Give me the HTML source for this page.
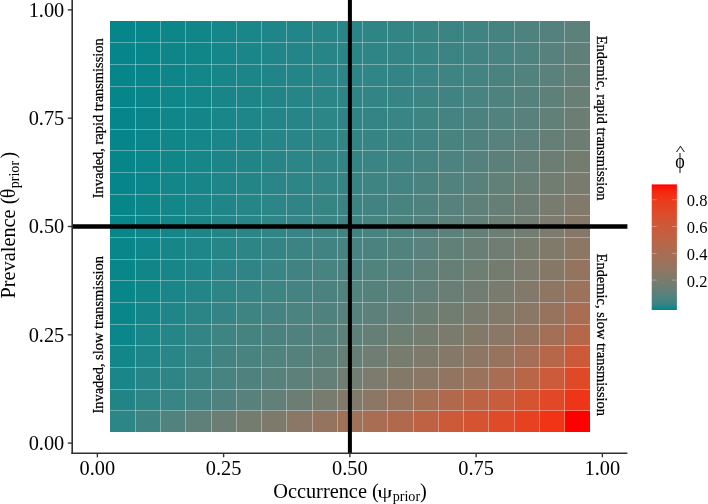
<!DOCTYPE html>
<html><head><meta charset="utf-8"><title>plot</title>
<style>
html,body{margin:0;padding:0;background:#fff;overflow:hidden;}
svg{display:block;}
text{font-family:"Liberation Serif","DejaVu Serif",serif;fill:#000;}
.tk{font-size:20.35px;}
.ti text{font-size:20.35px;}
.lb{font-size:14.45px;stroke:#000;stroke-width:0.25px;}
.lg{font-size:16.5px;}
</style></head><body>
<svg width="708" height="504" viewBox="0 0 708 504">
<rect x="0" y="0" width="708" height="504" fill="#ffffff"/>
<g shape-rendering="crispEdges">
<rect x="110.00" y="410.61" width="25.55" height="21.66" fill="#2c8586"/>
<rect x="110.00" y="388.95" width="25.55" height="21.96" fill="#218588"/>
<rect x="110.00" y="367.29" width="25.55" height="21.96" fill="#1a8689"/>
<rect x="110.00" y="345.63" width="25.55" height="21.96" fill="#128689"/>
<rect x="110.00" y="323.97" width="25.55" height="21.96" fill="#0b868a"/>
<rect x="110.00" y="302.31" width="25.55" height="21.96" fill="#09868a"/>
<rect x="110.00" y="280.65" width="25.55" height="21.96" fill="#08868a"/>
<rect x="110.00" y="258.99" width="25.55" height="21.96" fill="#08868a"/>
<rect x="110.00" y="237.33" width="25.55" height="21.96" fill="#08868a"/>
<rect x="110.00" y="215.67" width="25.55" height="21.96" fill="#08868a"/>
<rect x="110.00" y="194.01" width="25.55" height="21.96" fill="#07868a"/>
<rect x="110.00" y="172.35" width="25.55" height="21.96" fill="#06868a"/>
<rect x="110.00" y="150.69" width="25.55" height="21.96" fill="#06868a"/>
<rect x="110.00" y="129.03" width="25.55" height="21.96" fill="#06868a"/>
<rect x="110.00" y="107.37" width="25.55" height="21.96" fill="#06868a"/>
<rect x="110.00" y="85.71" width="25.55" height="21.96" fill="#06868a"/>
<rect x="110.00" y="64.05" width="25.55" height="21.96" fill="#06868a"/>
<rect x="110.00" y="42.39" width="25.55" height="21.96" fill="#06868a"/>
<rect x="110.00" y="20.73" width="25.55" height="21.96" fill="#06868a"/>
<rect x="135.25" y="410.61" width="25.55" height="21.66" fill="#3f8483"/>
<rect x="135.25" y="388.95" width="25.55" height="21.96" fill="#2e8586"/>
<rect x="135.25" y="367.29" width="25.55" height="21.96" fill="#258587"/>
<rect x="135.25" y="345.63" width="25.55" height="21.96" fill="#1e8588"/>
<rect x="135.25" y="323.97" width="25.55" height="21.96" fill="#198689"/>
<rect x="135.25" y="302.31" width="25.55" height="21.96" fill="#148689"/>
<rect x="135.25" y="280.65" width="25.55" height="21.96" fill="#118689"/>
<rect x="135.25" y="258.99" width="25.55" height="21.96" fill="#108689"/>
<rect x="135.25" y="237.33" width="25.55" height="21.96" fill="#0f8689"/>
<rect x="135.25" y="215.67" width="25.55" height="21.96" fill="#0e8689"/>
<rect x="135.25" y="194.01" width="25.55" height="21.96" fill="#0d868a"/>
<rect x="135.25" y="172.35" width="25.55" height="21.96" fill="#0c868a"/>
<rect x="135.25" y="150.69" width="25.55" height="21.96" fill="#0b868a"/>
<rect x="135.25" y="129.03" width="25.55" height="21.96" fill="#0b868a"/>
<rect x="135.25" y="107.37" width="25.55" height="21.96" fill="#0a868a"/>
<rect x="135.25" y="85.71" width="25.55" height="21.96" fill="#0a868a"/>
<rect x="135.25" y="64.05" width="25.55" height="21.96" fill="#0a868a"/>
<rect x="135.25" y="42.39" width="25.55" height="21.96" fill="#09868a"/>
<rect x="135.25" y="20.73" width="25.55" height="21.96" fill="#09868a"/>
<rect x="160.50" y="410.61" width="25.55" height="21.66" fill="#51827e"/>
<rect x="160.50" y="388.95" width="25.55" height="21.96" fill="#398484"/>
<rect x="160.50" y="367.29" width="25.55" height="21.96" fill="#2f8586"/>
<rect x="160.50" y="345.63" width="25.55" height="21.96" fill="#2a8587"/>
<rect x="160.50" y="323.97" width="25.55" height="21.96" fill="#258587"/>
<rect x="160.50" y="302.31" width="25.55" height="21.96" fill="#1f8588"/>
<rect x="160.50" y="280.65" width="25.55" height="21.96" fill="#1a8689"/>
<rect x="160.50" y="258.99" width="25.55" height="21.96" fill="#188689"/>
<rect x="160.50" y="237.33" width="25.55" height="21.96" fill="#168689"/>
<rect x="160.50" y="215.67" width="25.55" height="21.96" fill="#148689"/>
<rect x="160.50" y="194.01" width="25.55" height="21.96" fill="#138689"/>
<rect x="160.50" y="172.35" width="25.55" height="21.96" fill="#128689"/>
<rect x="160.50" y="150.69" width="25.55" height="21.96" fill="#118689"/>
<rect x="160.50" y="129.03" width="25.55" height="21.96" fill="#108689"/>
<rect x="160.50" y="107.37" width="25.55" height="21.96" fill="#0f8689"/>
<rect x="160.50" y="85.71" width="25.55" height="21.96" fill="#0f8689"/>
<rect x="160.50" y="64.05" width="25.55" height="21.96" fill="#0e8689"/>
<rect x="160.50" y="42.39" width="25.55" height="21.96" fill="#0e8689"/>
<rect x="160.50" y="20.73" width="25.55" height="21.96" fill="#0d868a"/>
<rect x="185.75" y="410.61" width="25.55" height="21.66" fill="#5f8079"/>
<rect x="185.75" y="388.95" width="25.55" height="21.96" fill="#448381"/>
<rect x="185.75" y="367.29" width="25.55" height="21.96" fill="#3b8483"/>
<rect x="185.75" y="345.63" width="25.55" height="21.96" fill="#378484"/>
<rect x="185.75" y="323.97" width="25.55" height="21.96" fill="#328485"/>
<rect x="185.75" y="302.31" width="25.55" height="21.96" fill="#2b8586"/>
<rect x="185.75" y="280.65" width="25.55" height="21.96" fill="#248587"/>
<rect x="185.75" y="258.99" width="25.55" height="21.96" fill="#208588"/>
<rect x="185.75" y="237.33" width="25.55" height="21.96" fill="#1e8588"/>
<rect x="185.75" y="215.67" width="25.55" height="21.96" fill="#1c8588"/>
<rect x="185.75" y="194.01" width="25.55" height="21.96" fill="#1a8689"/>
<rect x="185.75" y="172.35" width="25.55" height="21.96" fill="#188689"/>
<rect x="185.75" y="150.69" width="25.55" height="21.96" fill="#168689"/>
<rect x="185.75" y="129.03" width="25.55" height="21.96" fill="#158689"/>
<rect x="185.75" y="107.37" width="25.55" height="21.96" fill="#148689"/>
<rect x="185.75" y="85.71" width="25.55" height="21.96" fill="#138689"/>
<rect x="185.75" y="64.05" width="25.55" height="21.96" fill="#128689"/>
<rect x="185.75" y="42.39" width="25.55" height="21.96" fill="#118689"/>
<rect x="185.75" y="20.73" width="25.55" height="21.96" fill="#118689"/>
<rect x="211.00" y="410.61" width="25.55" height="21.66" fill="#6c7e74"/>
<rect x="211.00" y="388.95" width="25.55" height="21.96" fill="#4f827e"/>
<rect x="211.00" y="367.29" width="25.55" height="21.96" fill="#468381"/>
<rect x="211.00" y="345.63" width="25.55" height="21.96" fill="#428382"/>
<rect x="211.00" y="323.97" width="25.55" height="21.96" fill="#3e8483"/>
<rect x="211.00" y="302.31" width="25.55" height="21.96" fill="#358485"/>
<rect x="211.00" y="280.65" width="25.55" height="21.96" fill="#2d8586"/>
<rect x="211.00" y="258.99" width="25.55" height="21.96" fill="#298587"/>
<rect x="211.00" y="237.33" width="25.55" height="21.96" fill="#268587"/>
<rect x="211.00" y="215.67" width="25.55" height="21.96" fill="#238588"/>
<rect x="211.00" y="194.01" width="25.55" height="21.96" fill="#208588"/>
<rect x="211.00" y="172.35" width="25.55" height="21.96" fill="#1e8588"/>
<rect x="211.00" y="150.69" width="25.55" height="21.96" fill="#1c8588"/>
<rect x="211.00" y="129.03" width="25.55" height="21.96" fill="#1a8689"/>
<rect x="211.00" y="107.37" width="25.55" height="21.96" fill="#198689"/>
<rect x="211.00" y="85.71" width="25.55" height="21.96" fill="#188689"/>
<rect x="211.00" y="64.05" width="25.55" height="21.96" fill="#168689"/>
<rect x="211.00" y="42.39" width="25.55" height="21.96" fill="#158689"/>
<rect x="211.00" y="20.73" width="25.55" height="21.96" fill="#158689"/>
<rect x="236.25" y="410.61" width="25.55" height="21.66" fill="#747c70"/>
<rect x="236.25" y="388.95" width="25.55" height="21.96" fill="#59817b"/>
<rect x="236.25" y="367.29" width="25.55" height="21.96" fill="#4f827e"/>
<rect x="236.25" y="345.63" width="25.55" height="21.96" fill="#498380"/>
<rect x="236.25" y="323.97" width="25.55" height="21.96" fill="#458381"/>
<rect x="236.25" y="302.31" width="25.55" height="21.96" fill="#3d8483"/>
<rect x="236.25" y="280.65" width="25.55" height="21.96" fill="#368485"/>
<rect x="236.25" y="258.99" width="25.55" height="21.96" fill="#318485"/>
<rect x="236.25" y="237.33" width="25.55" height="21.96" fill="#2d8586"/>
<rect x="236.25" y="215.67" width="25.55" height="21.96" fill="#298587"/>
<rect x="236.25" y="194.01" width="25.55" height="21.96" fill="#268587"/>
<rect x="236.25" y="172.35" width="25.55" height="21.96" fill="#248587"/>
<rect x="236.25" y="150.69" width="25.55" height="21.96" fill="#218588"/>
<rect x="236.25" y="129.03" width="25.55" height="21.96" fill="#208588"/>
<rect x="236.25" y="107.37" width="25.55" height="21.96" fill="#1e8588"/>
<rect x="236.25" y="85.71" width="25.55" height="21.96" fill="#1d8588"/>
<rect x="236.25" y="64.05" width="25.55" height="21.96" fill="#1b8588"/>
<rect x="236.25" y="42.39" width="25.55" height="21.96" fill="#1a8689"/>
<rect x="236.25" y="20.73" width="25.55" height="21.96" fill="#198689"/>
<rect x="261.50" y="410.61" width="25.55" height="21.66" fill="#7e7a6b"/>
<rect x="261.50" y="388.95" width="25.55" height="21.96" fill="#627f78"/>
<rect x="261.50" y="367.29" width="25.55" height="21.96" fill="#56817c"/>
<rect x="261.50" y="345.63" width="25.55" height="21.96" fill="#50827e"/>
<rect x="261.50" y="323.97" width="25.55" height="21.96" fill="#4b8280"/>
<rect x="261.50" y="302.31" width="25.55" height="21.96" fill="#448381"/>
<rect x="261.50" y="280.65" width="25.55" height="21.96" fill="#3e8483"/>
<rect x="261.50" y="258.99" width="25.55" height="21.96" fill="#398484"/>
<rect x="261.50" y="237.33" width="25.55" height="21.96" fill="#348485"/>
<rect x="261.50" y="215.67" width="25.55" height="21.96" fill="#308586"/>
<rect x="261.50" y="194.01" width="25.55" height="21.96" fill="#2c8586"/>
<rect x="261.50" y="172.35" width="25.55" height="21.96" fill="#298587"/>
<rect x="261.50" y="150.69" width="25.55" height="21.96" fill="#278587"/>
<rect x="261.50" y="129.03" width="25.55" height="21.96" fill="#258587"/>
<rect x="261.50" y="107.37" width="25.55" height="21.96" fill="#238588"/>
<rect x="261.50" y="85.71" width="25.55" height="21.96" fill="#218588"/>
<rect x="261.50" y="64.05" width="25.55" height="21.96" fill="#208588"/>
<rect x="261.50" y="42.39" width="25.55" height="21.96" fill="#1f8588"/>
<rect x="261.50" y="20.73" width="25.55" height="21.96" fill="#1e8588"/>
<rect x="286.75" y="410.61" width="25.55" height="21.66" fill="#8a7765"/>
<rect x="286.75" y="388.95" width="25.55" height="21.96" fill="#6c7e74"/>
<rect x="286.75" y="367.29" width="25.55" height="21.96" fill="#5d807a"/>
<rect x="286.75" y="345.63" width="25.55" height="21.96" fill="#55817c"/>
<rect x="286.75" y="323.97" width="25.55" height="21.96" fill="#4f827e"/>
<rect x="286.75" y="302.31" width="25.55" height="21.96" fill="#4a8380"/>
<rect x="286.75" y="280.65" width="25.55" height="21.96" fill="#448381"/>
<rect x="286.75" y="258.99" width="25.55" height="21.96" fill="#408382"/>
<rect x="286.75" y="237.33" width="25.55" height="21.96" fill="#3b8483"/>
<rect x="286.75" y="215.67" width="25.55" height="21.96" fill="#368485"/>
<rect x="286.75" y="194.01" width="25.55" height="21.96" fill="#318485"/>
<rect x="286.75" y="172.35" width="25.55" height="21.96" fill="#2e8586"/>
<rect x="286.75" y="150.69" width="25.55" height="21.96" fill="#2c8586"/>
<rect x="286.75" y="129.03" width="25.55" height="21.96" fill="#2a8587"/>
<rect x="286.75" y="107.37" width="25.55" height="21.96" fill="#288587"/>
<rect x="286.75" y="85.71" width="25.55" height="21.96" fill="#268587"/>
<rect x="286.75" y="64.05" width="25.55" height="21.96" fill="#248587"/>
<rect x="286.75" y="42.39" width="25.55" height="21.96" fill="#238588"/>
<rect x="286.75" y="20.73" width="25.55" height="21.96" fill="#228588"/>
<rect x="312.00" y="410.61" width="25.55" height="21.66" fill="#95745f"/>
<rect x="312.00" y="388.95" width="25.55" height="21.96" fill="#777c6f"/>
<rect x="312.00" y="367.29" width="25.55" height="21.96" fill="#647f77"/>
<rect x="312.00" y="345.63" width="25.55" height="21.96" fill="#5b807a"/>
<rect x="312.00" y="323.97" width="25.55" height="21.96" fill="#55817c"/>
<rect x="312.00" y="302.31" width="25.55" height="21.96" fill="#4f827e"/>
<rect x="312.00" y="280.65" width="25.55" height="21.96" fill="#4b8280"/>
<rect x="312.00" y="258.99" width="25.55" height="21.96" fill="#468381"/>
<rect x="312.00" y="237.33" width="25.55" height="21.96" fill="#418382"/>
<rect x="312.00" y="215.67" width="25.55" height="21.96" fill="#3c8483"/>
<rect x="312.00" y="194.01" width="25.55" height="21.96" fill="#378484"/>
<rect x="312.00" y="172.35" width="25.55" height="21.96" fill="#338485"/>
<rect x="312.00" y="150.69" width="25.55" height="21.96" fill="#318485"/>
<rect x="312.00" y="129.03" width="25.55" height="21.96" fill="#2e8586"/>
<rect x="312.00" y="107.37" width="25.55" height="21.96" fill="#2c8586"/>
<rect x="312.00" y="85.71" width="25.55" height="21.96" fill="#2a8586"/>
<rect x="312.00" y="64.05" width="25.55" height="21.96" fill="#298587"/>
<rect x="312.00" y="42.39" width="25.55" height="21.96" fill="#278587"/>
<rect x="312.00" y="20.73" width="25.55" height="21.96" fill="#268587"/>
<rect x="337.25" y="410.61" width="25.55" height="21.66" fill="#9f7159"/>
<rect x="337.25" y="388.95" width="25.55" height="21.96" fill="#817a6a"/>
<rect x="337.25" y="367.29" width="25.55" height="21.96" fill="#707d72"/>
<rect x="337.25" y="345.63" width="25.55" height="21.96" fill="#657f77"/>
<rect x="337.25" y="323.97" width="25.55" height="21.96" fill="#5d807a"/>
<rect x="337.25" y="302.31" width="25.55" height="21.96" fill="#56817c"/>
<rect x="337.25" y="280.65" width="25.55" height="21.96" fill="#50827e"/>
<rect x="337.25" y="258.99" width="25.55" height="21.96" fill="#4b8280"/>
<rect x="337.25" y="237.33" width="25.55" height="21.96" fill="#468381"/>
<rect x="337.25" y="215.67" width="25.55" height="21.96" fill="#408382"/>
<rect x="337.25" y="194.01" width="25.55" height="21.96" fill="#3c8483"/>
<rect x="337.25" y="172.35" width="25.55" height="21.96" fill="#388484"/>
<rect x="337.25" y="150.69" width="25.55" height="21.96" fill="#358485"/>
<rect x="337.25" y="129.03" width="25.55" height="21.96" fill="#338485"/>
<rect x="337.25" y="107.37" width="25.55" height="21.96" fill="#318485"/>
<rect x="337.25" y="85.71" width="25.55" height="21.96" fill="#2f8586"/>
<rect x="337.25" y="64.05" width="25.55" height="21.96" fill="#2d8586"/>
<rect x="337.25" y="42.39" width="25.55" height="21.96" fill="#2b8586"/>
<rect x="337.25" y="20.73" width="25.55" height="21.96" fill="#298587"/>
<rect x="362.50" y="410.61" width="25.55" height="21.66" fill="#a86d53"/>
<rect x="362.50" y="388.95" width="25.55" height="21.96" fill="#8c7764"/>
<rect x="362.50" y="367.29" width="25.55" height="21.96" fill="#7c7b6d"/>
<rect x="362.50" y="345.63" width="25.55" height="21.96" fill="#707d72"/>
<rect x="362.50" y="323.97" width="25.55" height="21.96" fill="#667f76"/>
<rect x="362.50" y="302.31" width="25.55" height="21.96" fill="#5d807a"/>
<rect x="362.50" y="280.65" width="25.55" height="21.96" fill="#55817c"/>
<rect x="362.50" y="258.99" width="25.55" height="21.96" fill="#50827e"/>
<rect x="362.50" y="237.33" width="25.55" height="21.96" fill="#4b8280"/>
<rect x="362.50" y="215.67" width="25.55" height="21.96" fill="#468381"/>
<rect x="362.50" y="194.01" width="25.55" height="21.96" fill="#418382"/>
<rect x="362.50" y="172.35" width="25.55" height="21.96" fill="#3e8483"/>
<rect x="362.50" y="150.69" width="25.55" height="21.96" fill="#3a8484"/>
<rect x="362.50" y="129.03" width="25.55" height="21.96" fill="#378484"/>
<rect x="362.50" y="107.37" width="25.55" height="21.96" fill="#358485"/>
<rect x="362.50" y="85.71" width="25.55" height="21.96" fill="#328485"/>
<rect x="362.50" y="64.05" width="25.55" height="21.96" fill="#308586"/>
<rect x="362.50" y="42.39" width="25.55" height="21.96" fill="#2f8586"/>
<rect x="362.50" y="20.73" width="25.55" height="21.96" fill="#2d8586"/>
<rect x="387.75" y="410.61" width="25.55" height="21.66" fill="#b1694d"/>
<rect x="387.75" y="388.95" width="25.55" height="21.96" fill="#98735d"/>
<rect x="387.75" y="367.29" width="25.55" height="21.96" fill="#837969"/>
<rect x="387.75" y="345.63" width="25.55" height="21.96" fill="#777c6f"/>
<rect x="387.75" y="323.97" width="25.55" height="21.96" fill="#6d7e73"/>
<rect x="387.75" y="302.31" width="25.55" height="21.96" fill="#637f77"/>
<rect x="387.75" y="280.65" width="25.55" height="21.96" fill="#5c807a"/>
<rect x="387.75" y="258.99" width="25.55" height="21.96" fill="#56817c"/>
<rect x="387.75" y="237.33" width="25.55" height="21.96" fill="#52827d"/>
<rect x="387.75" y="215.67" width="25.55" height="21.96" fill="#4d827f"/>
<rect x="387.75" y="194.01" width="25.55" height="21.96" fill="#488380"/>
<rect x="387.75" y="172.35" width="25.55" height="21.96" fill="#438381"/>
<rect x="387.75" y="150.69" width="25.55" height="21.96" fill="#3f8382"/>
<rect x="387.75" y="129.03" width="25.55" height="21.96" fill="#3c8483"/>
<rect x="387.75" y="107.37" width="25.55" height="21.96" fill="#398484"/>
<rect x="387.75" y="85.71" width="25.55" height="21.96" fill="#368484"/>
<rect x="387.75" y="64.05" width="25.55" height="21.96" fill="#348485"/>
<rect x="387.75" y="42.39" width="25.55" height="21.96" fill="#338485"/>
<rect x="387.75" y="20.73" width="25.55" height="21.96" fill="#328485"/>
<rect x="413.00" y="410.61" width="25.55" height="21.66" fill="#bf6243"/>
<rect x="413.00" y="388.95" width="25.55" height="21.96" fill="#a46f55"/>
<rect x="413.00" y="367.29" width="25.55" height="21.96" fill="#8a7765"/>
<rect x="413.00" y="345.63" width="25.55" height="21.96" fill="#7d7a6c"/>
<rect x="413.00" y="323.97" width="25.55" height="21.96" fill="#747c70"/>
<rect x="413.00" y="302.31" width="25.55" height="21.96" fill="#6a7e74"/>
<rect x="413.00" y="280.65" width="25.55" height="21.96" fill="#627f78"/>
<rect x="413.00" y="258.99" width="25.55" height="21.96" fill="#5e8079"/>
<rect x="413.00" y="237.33" width="25.55" height="21.96" fill="#5a817b"/>
<rect x="413.00" y="215.67" width="25.55" height="21.96" fill="#54817d"/>
<rect x="413.00" y="194.01" width="25.55" height="21.96" fill="#4f827e"/>
<rect x="413.00" y="172.35" width="25.55" height="21.96" fill="#4a8280"/>
<rect x="413.00" y="150.69" width="25.55" height="21.96" fill="#458381"/>
<rect x="413.00" y="129.03" width="25.55" height="21.96" fill="#418382"/>
<rect x="413.00" y="107.37" width="25.55" height="21.96" fill="#3e8483"/>
<rect x="413.00" y="85.71" width="25.55" height="21.96" fill="#3b8483"/>
<rect x="413.00" y="64.05" width="25.55" height="21.96" fill="#398484"/>
<rect x="413.00" y="42.39" width="25.55" height="21.96" fill="#378484"/>
<rect x="413.00" y="20.73" width="25.55" height="21.96" fill="#368484"/>
<rect x="438.25" y="410.61" width="25.55" height="21.66" fill="#cc5a39"/>
<rect x="438.25" y="388.95" width="25.55" height="21.96" fill="#b1694d"/>
<rect x="438.25" y="367.29" width="25.55" height="21.96" fill="#917561"/>
<rect x="438.25" y="345.63" width="25.55" height="21.96" fill="#847968"/>
<rect x="438.25" y="323.97" width="25.55" height="21.96" fill="#7b7b6d"/>
<rect x="438.25" y="302.31" width="25.55" height="21.96" fill="#717d71"/>
<rect x="438.25" y="280.65" width="25.55" height="21.96" fill="#6a7e75"/>
<rect x="438.25" y="258.99" width="25.55" height="21.96" fill="#657f76"/>
<rect x="438.25" y="237.33" width="25.55" height="21.96" fill="#618078"/>
<rect x="438.25" y="215.67" width="25.55" height="21.96" fill="#5c807a"/>
<rect x="438.25" y="194.01" width="25.55" height="21.96" fill="#56817c"/>
<rect x="438.25" y="172.35" width="25.55" height="21.96" fill="#51827d"/>
<rect x="438.25" y="150.69" width="25.55" height="21.96" fill="#4c827f"/>
<rect x="438.25" y="129.03" width="25.55" height="21.96" fill="#488380"/>
<rect x="438.25" y="107.37" width="25.55" height="21.96" fill="#448381"/>
<rect x="438.25" y="85.71" width="25.55" height="21.96" fill="#418382"/>
<rect x="438.25" y="64.05" width="25.55" height="21.96" fill="#3e8483"/>
<rect x="438.25" y="42.39" width="25.55" height="21.96" fill="#3b8483"/>
<rect x="438.25" y="20.73" width="25.55" height="21.96" fill="#3a8484"/>
<rect x="463.50" y="410.61" width="25.55" height="21.66" fill="#d55331"/>
<rect x="463.50" y="388.95" width="25.55" height="21.96" fill="#bd6344"/>
<rect x="463.50" y="367.29" width="25.55" height="21.96" fill="#9b725c"/>
<rect x="463.50" y="345.63" width="25.55" height="21.96" fill="#8d7764"/>
<rect x="463.50" y="323.97" width="25.55" height="21.96" fill="#837969"/>
<rect x="463.50" y="302.31" width="25.55" height="21.96" fill="#797b6e"/>
<rect x="463.50" y="280.65" width="25.55" height="21.96" fill="#717d71"/>
<rect x="463.50" y="258.99" width="25.55" height="21.96" fill="#6d7e73"/>
<rect x="463.50" y="237.33" width="25.55" height="21.96" fill="#697e75"/>
<rect x="463.50" y="215.67" width="25.55" height="21.96" fill="#647f77"/>
<rect x="463.50" y="194.01" width="25.55" height="21.96" fill="#5f8079"/>
<rect x="463.50" y="172.35" width="25.55" height="21.96" fill="#59817b"/>
<rect x="463.50" y="150.69" width="25.55" height="21.96" fill="#54817d"/>
<rect x="463.50" y="129.03" width="25.55" height="21.96" fill="#4f827e"/>
<rect x="463.50" y="107.37" width="25.55" height="21.96" fill="#4b8280"/>
<rect x="463.50" y="85.71" width="25.55" height="21.96" fill="#478381"/>
<rect x="463.50" y="64.05" width="25.55" height="21.96" fill="#438381"/>
<rect x="463.50" y="42.39" width="25.55" height="21.96" fill="#418382"/>
<rect x="463.50" y="20.73" width="25.55" height="21.96" fill="#3f8483"/>
<rect x="488.75" y="410.61" width="25.55" height="21.66" fill="#df4a29"/>
<rect x="488.75" y="388.95" width="25.55" height="21.96" fill="#c85c3c"/>
<rect x="488.75" y="367.29" width="25.55" height="21.96" fill="#a86d53"/>
<rect x="488.75" y="345.63" width="25.55" height="21.96" fill="#97735e"/>
<rect x="488.75" y="323.97" width="25.55" height="21.96" fill="#8b7765"/>
<rect x="488.75" y="302.31" width="25.55" height="21.96" fill="#817a6a"/>
<rect x="488.75" y="280.65" width="25.55" height="21.96" fill="#797b6e"/>
<rect x="488.75" y="258.99" width="25.55" height="21.96" fill="#747c70"/>
<rect x="488.75" y="237.33" width="25.55" height="21.96" fill="#6f7d72"/>
<rect x="488.75" y="215.67" width="25.55" height="21.96" fill="#6b7e74"/>
<rect x="488.75" y="194.01" width="25.55" height="21.96" fill="#667f76"/>
<rect x="488.75" y="172.35" width="25.55" height="21.96" fill="#618078"/>
<rect x="488.75" y="150.69" width="25.55" height="21.96" fill="#5b807a"/>
<rect x="488.75" y="129.03" width="25.55" height="21.96" fill="#56817c"/>
<rect x="488.75" y="107.37" width="25.55" height="21.96" fill="#51827e"/>
<rect x="488.75" y="85.71" width="25.55" height="21.96" fill="#4d827f"/>
<rect x="488.75" y="64.05" width="25.55" height="21.96" fill="#4a8280"/>
<rect x="488.75" y="42.39" width="25.55" height="21.96" fill="#478380"/>
<rect x="488.75" y="20.73" width="25.55" height="21.96" fill="#458381"/>
<rect x="514.00" y="410.61" width="25.55" height="21.66" fill="#e64222"/>
<rect x="514.00" y="388.95" width="25.55" height="21.96" fill="#d45432"/>
<rect x="514.00" y="367.29" width="25.55" height="21.96" fill="#b86648"/>
<rect x="514.00" y="345.63" width="25.55" height="21.96" fill="#a46f56"/>
<rect x="514.00" y="323.97" width="25.55" height="21.96" fill="#95745f"/>
<rect x="514.00" y="302.31" width="25.55" height="21.96" fill="#8a7765"/>
<rect x="514.00" y="280.65" width="25.55" height="21.96" fill="#82796a"/>
<rect x="514.00" y="258.99" width="25.55" height="21.96" fill="#7c7b6d"/>
<rect x="514.00" y="237.33" width="25.55" height="21.96" fill="#777c6f"/>
<rect x="514.00" y="215.67" width="25.55" height="21.96" fill="#727d71"/>
<rect x="514.00" y="194.01" width="25.55" height="21.96" fill="#6e7d73"/>
<rect x="514.00" y="172.35" width="25.55" height="21.96" fill="#697e75"/>
<rect x="514.00" y="150.69" width="25.55" height="21.96" fill="#637f77"/>
<rect x="514.00" y="129.03" width="25.55" height="21.96" fill="#5d807a"/>
<rect x="514.00" y="107.37" width="25.55" height="21.96" fill="#58817b"/>
<rect x="514.00" y="85.71" width="25.55" height="21.96" fill="#55817c"/>
<rect x="514.00" y="64.05" width="25.55" height="21.96" fill="#51827e"/>
<rect x="514.00" y="42.39" width="25.55" height="21.96" fill="#4e827e"/>
<rect x="514.00" y="20.73" width="25.55" height="21.96" fill="#4d827f"/>
<rect x="539.25" y="410.61" width="25.55" height="21.66" fill="#f13316"/>
<rect x="539.25" y="388.95" width="25.55" height="21.96" fill="#e14827"/>
<rect x="539.25" y="367.29" width="25.55" height="21.96" fill="#cb5b3a"/>
<rect x="539.25" y="345.63" width="25.55" height="21.96" fill="#b6674a"/>
<rect x="539.25" y="323.97" width="25.55" height="21.96" fill="#a36f56"/>
<rect x="539.25" y="302.31" width="25.55" height="21.96" fill="#97735e"/>
<rect x="539.25" y="280.65" width="25.55" height="21.96" fill="#8e7663"/>
<rect x="539.25" y="258.99" width="25.55" height="21.96" fill="#867867"/>
<rect x="539.25" y="237.33" width="25.55" height="21.96" fill="#807a6a"/>
<rect x="539.25" y="215.67" width="25.55" height="21.96" fill="#7c7b6d"/>
<rect x="539.25" y="194.01" width="25.55" height="21.96" fill="#777c6f"/>
<rect x="539.25" y="172.35" width="25.55" height="21.96" fill="#727d71"/>
<rect x="539.25" y="150.69" width="25.55" height="21.96" fill="#6c7e74"/>
<rect x="539.25" y="129.03" width="25.55" height="21.96" fill="#667f76"/>
<rect x="539.25" y="107.37" width="25.55" height="21.96" fill="#618078"/>
<rect x="539.25" y="85.71" width="25.55" height="21.96" fill="#5d8079"/>
<rect x="539.25" y="64.05" width="25.55" height="21.96" fill="#5a817b"/>
<rect x="539.25" y="42.39" width="25.55" height="21.96" fill="#56817c"/>
<rect x="539.25" y="20.73" width="25.55" height="21.96" fill="#54817d"/>
<rect x="564.50" y="410.61" width="25.25" height="21.66" fill="#ff0000"/>
<rect x="564.50" y="388.95" width="25.25" height="21.96" fill="#ef3518"/>
<rect x="564.50" y="367.29" width="25.25" height="21.96" fill="#e04928"/>
<rect x="564.50" y="345.63" width="25.25" height="21.96" fill="#cc5a39"/>
<rect x="564.50" y="323.97" width="25.25" height="21.96" fill="#b66749"/>
<rect x="564.50" y="302.31" width="25.25" height="21.96" fill="#a86d53"/>
<rect x="564.50" y="280.65" width="25.25" height="21.96" fill="#9d725a"/>
<rect x="564.50" y="258.99" width="25.25" height="21.96" fill="#95745f"/>
<rect x="564.50" y="237.33" width="25.25" height="21.96" fill="#8c7764"/>
<rect x="564.50" y="215.67" width="25.25" height="21.96" fill="#857868"/>
<rect x="564.50" y="194.01" width="25.25" height="21.96" fill="#817a6a"/>
<rect x="564.50" y="172.35" width="25.25" height="21.96" fill="#797b6e"/>
<rect x="564.50" y="150.69" width="25.25" height="21.96" fill="#747c70"/>
<rect x="564.50" y="129.03" width="25.25" height="21.96" fill="#6e7d73"/>
<rect x="564.50" y="107.37" width="25.25" height="21.96" fill="#6c7e74"/>
<rect x="564.50" y="85.71" width="25.25" height="21.96" fill="#697e75"/>
<rect x="564.50" y="64.05" width="25.25" height="21.96" fill="#627f78"/>
<rect x="564.50" y="42.39" width="25.25" height="21.96" fill="#5f8079"/>
<rect x="564.50" y="20.73" width="25.25" height="21.96" fill="#5c807a"/>
</g>
<g stroke="#ffffff" stroke-opacity="0.34" stroke-width="1" shape-rendering="crispEdges">
<line x1="135.5" y1="20.73" x2="135.5" y2="432.27"/>
<line x1="110.00" y1="410.5" x2="589.75" y2="410.5"/>
<line x1="160.5" y1="20.73" x2="160.5" y2="432.27"/>
<line x1="110.00" y1="389.5" x2="589.75" y2="389.5"/>
<line x1="185.5" y1="20.73" x2="185.5" y2="432.27"/>
<line x1="110.00" y1="367.5" x2="589.75" y2="367.5"/>
<line x1="211.5" y1="20.73" x2="211.5" y2="432.27"/>
<line x1="110.00" y1="345.5" x2="589.75" y2="345.5"/>
<line x1="236.5" y1="20.73" x2="236.5" y2="432.27"/>
<line x1="110.00" y1="324.5" x2="589.75" y2="324.5"/>
<line x1="261.5" y1="20.73" x2="261.5" y2="432.27"/>
<line x1="110.00" y1="302.5" x2="589.75" y2="302.5"/>
<line x1="286.5" y1="20.73" x2="286.5" y2="432.27"/>
<line x1="110.00" y1="280.5" x2="589.75" y2="280.5"/>
<line x1="312.5" y1="20.73" x2="312.5" y2="432.27"/>
<line x1="110.00" y1="259.5" x2="589.75" y2="259.5"/>
<line x1="337.5" y1="20.73" x2="337.5" y2="432.27"/>
<line x1="110.00" y1="237.5" x2="589.75" y2="237.5"/>
<line x1="362.5" y1="20.73" x2="362.5" y2="432.27"/>
<line x1="110.00" y1="215.5" x2="589.75" y2="215.5"/>
<line x1="387.5" y1="20.73" x2="387.5" y2="432.27"/>
<line x1="110.00" y1="194.5" x2="589.75" y2="194.5"/>
<line x1="413.5" y1="20.73" x2="413.5" y2="432.27"/>
<line x1="110.00" y1="172.5" x2="589.75" y2="172.5"/>
<line x1="438.5" y1="20.73" x2="438.5" y2="432.27"/>
<line x1="110.00" y1="150.5" x2="589.75" y2="150.5"/>
<line x1="463.5" y1="20.73" x2="463.5" y2="432.27"/>
<line x1="110.00" y1="129.5" x2="589.75" y2="129.5"/>
<line x1="488.5" y1="20.73" x2="488.5" y2="432.27"/>
<line x1="110.00" y1="107.5" x2="589.75" y2="107.5"/>
<line x1="514.5" y1="20.73" x2="514.5" y2="432.27"/>
<line x1="110.00" y1="86.5" x2="589.75" y2="86.5"/>
<line x1="539.5" y1="20.73" x2="539.5" y2="432.27"/>
<line x1="110.00" y1="64.5" x2="589.75" y2="64.5"/>
<line x1="564.5" y1="20.73" x2="564.5" y2="432.27"/>
<line x1="110.00" y1="42.5" x2="589.75" y2="42.5"/>
</g>
<line x1="72.2" y1="226.5" x2="627.4" y2="226.5" stroke="#000" stroke-width="4.3"/>
<line x1="349.9" y1="0" x2="349.9" y2="453.3" stroke="#000" stroke-width="4.0"/>
<g stroke="#303030" stroke-width="1.6" fill="none">
<line x1="72.2" y1="0" x2="72.2" y2="454.1"/>
<line x1="71.4" y1="453.3" x2="627.4" y2="453.3"/>
<line x1="67.8" y1="443.10" x2="72.2" y2="443.10" stroke-width="1.35"/>
<line x1="97.37" y1="453.3" x2="97.37" y2="457.3" stroke-width="1.35"/>
<line x1="67.8" y1="334.80" x2="72.2" y2="334.80" stroke-width="1.35"/>
<line x1="223.62" y1="453.3" x2="223.62" y2="457.3" stroke-width="1.35"/>
<line x1="67.8" y1="226.50" x2="72.2" y2="226.50" stroke-width="1.35"/>
<line x1="349.87" y1="453.3" x2="349.87" y2="457.3" stroke-width="1.35"/>
<line x1="67.8" y1="118.20" x2="72.2" y2="118.20" stroke-width="1.35"/>
<line x1="476.12" y1="453.3" x2="476.12" y2="457.3" stroke-width="1.35"/>
<line x1="67.8" y1="9.90" x2="72.2" y2="9.90" stroke-width="1.35"/>
<line x1="602.37" y1="453.3" x2="602.37" y2="457.3" stroke-width="1.35"/>
</g>
<text class="tk" x="64.3" y="449.90" text-anchor="end">0.00</text>
<text class="tk" x="97.37" y="474.6" text-anchor="middle">0.00</text>
<text class="tk" x="64.3" y="341.60" text-anchor="end">0.25</text>
<text class="tk" x="223.62" y="474.6" text-anchor="middle">0.25</text>
<text class="tk" x="64.3" y="233.30" text-anchor="end">0.50</text>
<text class="tk" x="349.87" y="474.6" text-anchor="middle">0.50</text>
<text class="tk" x="64.3" y="125.00" text-anchor="end">0.75</text>
<text class="tk" x="476.12" y="474.6" text-anchor="middle">0.75</text>
<text class="tk" x="64.3" y="16.70" text-anchor="end">1.00</text>
<text class="tk" x="602.37" y="474.6" text-anchor="middle">1.00</text>
<g class="ti">
<text x="273.2" y="497.6">Occurrence (</text>
<text transform="translate(384.9,498.2) scale(1.19,0.85)" text-anchor="middle">ψ</text>
<text x="392.7" y="501.4" style="font-size:14.1px">prior</text>
<text x="420.1" y="497.6">)</text>
</g>
<g class="ti" transform="translate(14.7,0) rotate(-90)">
<text x="-298.6" y="0">Prevalence (</text>
<text x="-193.4" y="0" text-anchor="middle">θ</text>
<text x="-188.3" y="3.8" style="font-size:14.1px">prior</text>
<text x="-158.4" y="0">)</text>
</g>
<text class="lb" transform="translate(103.4,118.20) rotate(-90)" text-anchor="middle">Invaded, rapid transmission</text>
<text class="lb" transform="translate(103.4,334.80) rotate(-90)" text-anchor="middle">Invaded, slow transmission</text>
<text class="lb" transform="translate(596.5,118.20) rotate(90)" text-anchor="middle">Endemic, rapid transmission</text>
<text class="lb" transform="translate(596.5,334.80) rotate(90)" text-anchor="middle">Endemic, slow transmission</text>
<defs><linearGradient id="lg" x1="0" y1="1" x2="0" y2="0">
<stop offset="0.00" stop-color="#03868a"/>
<stop offset="0.05" stop-color="#398484"/>
<stop offset="0.10" stop-color="#51827e"/>
<stop offset="0.15" stop-color="#627f78"/>
<stop offset="0.20" stop-color="#717d71"/>
<stop offset="0.25" stop-color="#7e7a6b"/>
<stop offset="0.30" stop-color="#8a7765"/>
<stop offset="0.35" stop-color="#95745f"/>
<stop offset="0.40" stop-color="#9f7159"/>
<stop offset="0.45" stop-color="#a86d53"/>
<stop offset="0.50" stop-color="#b1694d"/>
<stop offset="0.55" stop-color="#ba6547"/>
<stop offset="0.60" stop-color="#c26040"/>
<stop offset="0.65" stop-color="#ca5b3a"/>
<stop offset="0.70" stop-color="#d25534"/>
<stop offset="0.75" stop-color="#da4f2d"/>
<stop offset="0.80" stop-color="#e24726"/>
<stop offset="0.85" stop-color="#e93e1f"/>
<stop offset="0.90" stop-color="#f13316"/>
<stop offset="0.95" stop-color="#f8230c"/>
<stop offset="1.00" stop-color="#ff0000"/>
</linearGradient></defs>
<rect x="651.7" y="184.4" width="25.2" height="125.6" fill="url(#lg)"/>
<g stroke="#ffffff" stroke-opacity="0.38" stroke-width="0.8">
<line x1="651.7" y1="199.7" x2="656.7" y2="199.7"/><line x1="671.9" y1="199.7" x2="676.9" y2="199.7"/>
<line x1="651.7" y1="226.5" x2="656.7" y2="226.5"/><line x1="671.9" y1="226.5" x2="676.9" y2="226.5"/>
<line x1="651.7" y1="253.4" x2="656.7" y2="253.4"/><line x1="671.9" y1="253.4" x2="676.9" y2="253.4"/>
<line x1="651.7" y1="280.1" x2="656.7" y2="280.1"/><line x1="671.9" y1="280.1" x2="676.9" y2="280.1"/>
</g>
<text class="lg" x="686.8" y="206.1">0.8</text>
<text class="lg" x="686.8" y="232.9">0.6</text>
<text class="lg" x="686.8" y="259.8">0.4</text>
<text class="lg" x="686.8" y="286.5">0.2</text>
<text transform="translate(679.9,168.3) scale(0.86,1)" text-anchor="middle" font-size="21px">ϕ</text>
<text transform="translate(680.4,153.6) scale(1,0.62)" text-anchor="middle" font-size="20px">^</text>
</svg></body></html>
